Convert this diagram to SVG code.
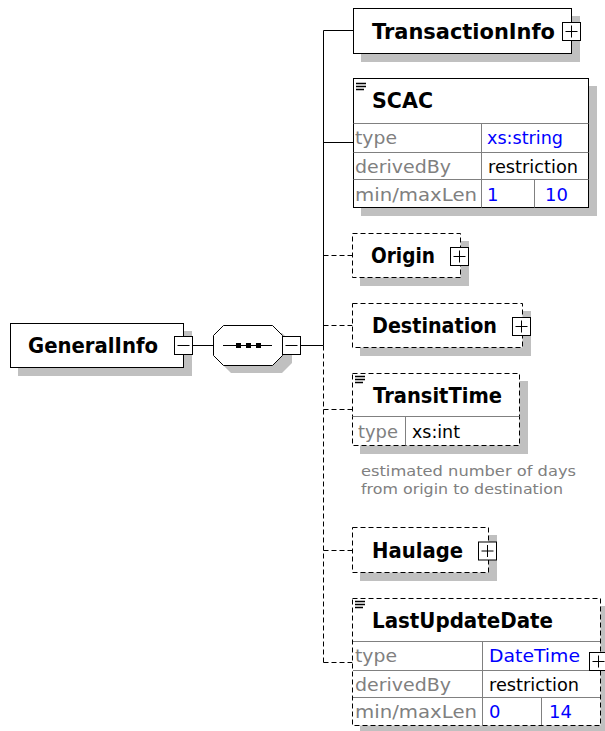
<svg xmlns="http://www.w3.org/2000/svg" width="605" height="731" viewBox="0 0 605 731">
<defs>
<style>
.box{fill:#fff;stroke:#000;stroke-width:1}
.opt{fill:#fff;stroke:#000;stroke-width:1;stroke-dasharray:5 3}
.sh{fill:#c0c0c0;stroke:none}
.sep{stroke:#808080;stroke-width:1;fill:none}
.ln{stroke:#000;stroke-width:1;fill:none}
.dl{stroke:#000;stroke-width:1;fill:none;stroke-dasharray:5 3}
.t{font-family:"DejaVu Sans","Liberation Sans",sans-serif;font-weight:bold;font-size:21px;fill:#000}
.r{font-family:"DejaVu Sans","Liberation Sans",sans-serif;font-size:18px}
.g{fill:#808080}
.b{fill:#0000ff}
.k{fill:#000}
.d{font-family:"DejaVu Sans","Liberation Sans",sans-serif;font-size:14.5px;fill:#808080}
.pm{fill:#fff;stroke:#000;stroke-width:1}
</style>
<g id="plus">
<rect class="pm" x="-9" y="-9" width="18" height="18"/>
<path class="ln" d="M-6,0H6M0,-6V6"/>
</g>
<g id="minus">
<rect class="pm" x="-9" y="-9" width="18" height="18"/>
<path class="ln" d="M-6,0H6"/>
</g>
<g id="ico">
<path stroke="#000" stroke-width="1.3" fill="none" d="M0,0.5H10M0,3.5H10M0,6.5H8"/>
</g>
</defs>
<rect width="605" height="731" fill="#fff"/>

<g id="connectors">
<path class="ln" d="M192.5,345.5H213.5"/>
<path class="ln" d="M300,345.5H323.5"/>
<path class="ln" d="M323.5,30.5V345.5"/>
<path class="dl" d="M323.5,345.5V662.5"/>
<path class="ln" d="M323.5,30.5H353.5"/>
<path class="ln" d="M323.5,142.5H353.5"/>
<path class="dl" d="M323.5,255.5H352.5"/>
<path class="dl" d="M323.5,325.5H352.5"/>
<path class="dl" d="M323.5,409.5H352.5"/>
<path class="dl" d="M323.5,550.5H352.5"/>
<path class="dl" d="M323.5,662.5H352.5"/>
</g>

<g id="GeneralInfo">
<rect class="sh" x="18" y="331" width="174" height="45"/>
<rect class="box" x="10.5" y="323.5" width="173" height="44"/>
<text class="t" x="28" y="353" textLength="130" lengthAdjust="spacingAndGlyphs">GeneralInfo</text>
<use href="#minus" x="183.5" y="345.5"/>
</g>

<g id="sequence">
<path class="sh" d="M231,333H282L292,343V363L282,373H231L221,363V343Z"/>
<path class="box" d="M223.5,325.5H272.5L282.5,335.5V355.5L272.5,365.5H223.5L213.5,355.5V335.5Z"/>
<path class="ln" d="M223,345.5H272"/>
<rect x="236" y="343" width="5" height="5" fill="#000"/>
<rect x="246" y="343" width="5" height="5" fill="#000"/>
<rect x="256" y="343" width="5" height="5" fill="#000"/>
<use href="#minus" x="291.5" y="345.5"/>
</g>

<g id="TransactionInfo">
<rect class="sh" x="361" y="16" width="219" height="46"/>
<rect class="box" x="353.5" y="8.5" width="218" height="45"/>
<text class="t" x="372" y="39" textLength="183" lengthAdjust="spacingAndGlyphs">TransactionInfo</text>
<use href="#plus" x="571.5" y="31.5"/>
</g>

<g id="SCAC">
<rect class="sh" x="361" y="86" width="236" height="130"/>
<rect class="box" x="353.5" y="78.5" width="235" height="129"/>
<use href="#ico" x="356" y="83"/>
<text class="t" x="372" y="108" textLength="61" lengthAdjust="spacingAndGlyphs">SCAC</text>
<path class="sep" d="M353.5,123.5H588.5M353.5,152.5H588.5M353.5,179.5H588.5M481.5,123.5V207.5M534.5,179.5V207.5"/>
<text class="r g" x="355" y="144" textLength="42" lengthAdjust="spacingAndGlyphs">type</text>
<text class="r g" x="355" y="173" textLength="96" lengthAdjust="spacingAndGlyphs">derivedBy</text>
<text class="r g" x="355" y="201" textLength="122" lengthAdjust="spacingAndGlyphs">min/maxLen</text>
<text class="r b" x="487" y="144" textLength="76" lengthAdjust="spacingAndGlyphs">xs:string</text>
<text class="r k" x="488" y="173" textLength="90" lengthAdjust="spacingAndGlyphs">restriction</text>
<text class="r b" x="487" y="201">1</text>
<text class="r b" x="545" y="201">10</text>
</g>

<g id="Origin">
<rect class="sh" x="360" y="241" width="109" height="45"/>
<rect class="opt" x="352.5" y="233.5" width="108" height="44"/>
<text class="t" x="371" y="263" textLength="64" lengthAdjust="spacingAndGlyphs">Origin</text>
<use href="#plus" x="459.5" y="256.5"/>
</g>

<g id="Destination">
<rect class="sh" x="360" y="311" width="171" height="45"/>
<rect class="opt" x="352.5" y="303.5" width="170" height="44"/>
<text class="t" x="372" y="333" textLength="125" lengthAdjust="spacingAndGlyphs">Destination</text>
<use href="#plus" x="521.5" y="326.5"/>
</g>

<g id="TransitTime">
<rect class="sh" x="360" y="381" width="168" height="73"/>
<rect class="opt" x="352.5" y="373.5" width="167" height="72"/>
<use href="#ico" x="355" y="376"/>
<text class="t" x="373" y="403" textLength="129" lengthAdjust="spacingAndGlyphs">TransitTime</text>
<path class="sep" d="M352.5,416.5H519.5M405.5,416.5V445.5"/>
<text class="r g" x="358" y="438" textLength="40" lengthAdjust="spacingAndGlyphs">type</text>
<text class="r k" x="412" y="438" textLength="48" lengthAdjust="spacingAndGlyphs">xs:int</text>
<text class="d" x="361" y="476" textLength="215" lengthAdjust="spacingAndGlyphs">estimated number of days</text>
<text class="d" x="361" y="493.5" textLength="202" lengthAdjust="spacingAndGlyphs">from origin to destination</text>
</g>

<g id="Haulage">
<rect class="sh" x="360" y="535" width="137" height="46"/>
<rect class="opt" x="352.5" y="527.5" width="136" height="45"/>
<text class="t" x="372" y="558" textLength="91" lengthAdjust="spacingAndGlyphs">Haulage</text>
<use href="#plus" x="487.5" y="551"/>
</g>

<g id="LastUpdateDate">
<rect class="sh" x="360" y="606" width="249" height="128"/>
<rect class="opt" x="352.5" y="598.5" width="248" height="127"/>
<use href="#ico" x="355" y="601"/>
<text class="t" x="372" y="628" textLength="181" lengthAdjust="spacingAndGlyphs">LastUpdateDate</text>
<path class="sep" d="M353,641.5H600M353,670.5H600M353,697.5H600M482.5,641.5V725M541.5,697.5V725"/>
<text class="r g" x="355" y="662" textLength="42" lengthAdjust="spacingAndGlyphs">type</text>
<text class="r g" x="355" y="691" textLength="96" lengthAdjust="spacingAndGlyphs">derivedBy</text>
<text class="r g" x="355" y="718" textLength="122" lengthAdjust="spacingAndGlyphs">min/maxLen</text>
<text class="r b" x="489" y="662" textLength="91" lengthAdjust="spacingAndGlyphs">DateTime</text>
<text class="r k" x="489" y="691" textLength="90" lengthAdjust="spacingAndGlyphs">restriction</text>
<text class="r b" x="489" y="718">0</text>
<text class="r b" x="549" y="718">14</text>
<use href="#plus" x="598.5" y="661.5"/>
</g>
</svg>
